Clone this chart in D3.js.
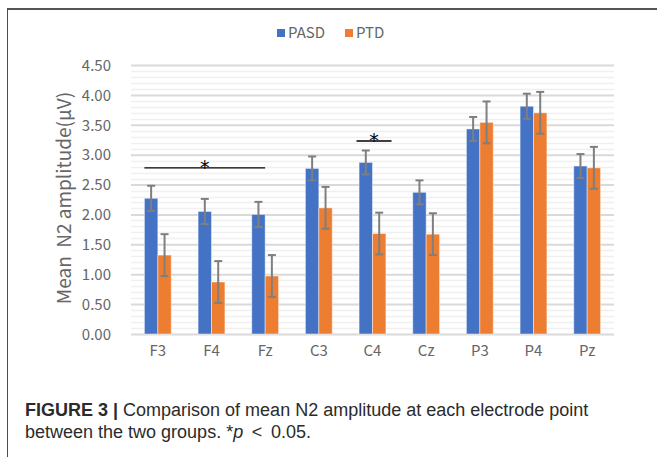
<!DOCTYPE html>
<html>
<head>
<meta charset="utf-8">
<script src="https://cdn.jsdelivr.net/npm/d3@7"></script>
<style>
    body { margin: 0; background: #fff; }
    svg { display: block; }
</style>
</head>
<body>
<div id="chart"></div>
<script>
'use strict';

// DATA
var electrodes = ['F3', 'F4', 'Fz', 'C3', 'C4', 'Cz', 'P3', 'P4', 'Pz'];
var groups = ['PASD', 'PTD'];
var pasdMean = [2.27, 2.05, 2.00, 2.77, 2.87, 2.37, 3.43, 3.81, 2.81];
var pasdErr = [0.21, 0.21, 0.21, 0.20, 0.20, 0.20, 0.20, 0.21, 0.20];
var ptdMean = [1.32, 0.87, 0.97, 2.11, 1.68, 1.67, 3.54, 3.70, 2.78];
var ptdErr = [0.35, 0.35, 0.35, 0.35, 0.35, 0.35, 0.35, 0.35, 0.35];
var yTicks = [0, 0.5, 1, 1.5, 2, 2.5, 3, 3.5, 4, 4.5];
var captionLines = [
    ['FIGURE 3 |', ' Comparison of mean N2 amplitude at each electrode point'],
    ['', 'between the two groups. *p \u2009<\u2009 0.05.']
];
// significance brackets: from / to electrode and height in µV
var sigMarks = [
    { from: 'F3', to: 'Fz', y: 2.78, wide: true },
    { from: 'C4', to: 'C4', y: 3.23, wide: false }
];

var colors = { PASD: '#4472C4', PTD: '#ED7D31' };

var stage = { width: 657, height: 457 };
var plot = { left: 131, right: 614, top: 65, bottom: 334 };

var svg = d3.select('#chart')
    .append('svg')
    .attr('width', stage.width)
    .attr('height', stage.height)
    .attr('xmlns', 'http://www.w3.org/2000/svg');

// FRAME
svg.append('line')
    .attr('x1', 7).attr('y1', 9).attr('x2', stage.width).attr('y2', 9)
    .attr('stroke', '#555').attr('stroke-width', 2);
svg.append('line')
    .attr('x1', 7.5).attr('y1', 8).attr('x2', 7.5).attr('y2', stage.height)
    .attr('stroke', '#4d4d4d').attr('stroke-width', 1);

// SCALES
var x = d3.scaleBand()
    .domain(electrodes)
    .range([plot.left, plot.right]);

var inner = d3.scaleBand()
    .domain(groups)
    .range([0, x.bandwidth() / 2]);

var y = d3.scaleLinear()
    .domain([0, 4.5])
    .range([plot.bottom, plot.top]);

// GRID LINES
var minorTicks = d3.range(0, 45).map(function(d) { return d / 10; })
    .filter(function(d) { return Math.round(d * 10) % 5 !== 0; });

svg.append('g')
    .attr('class', 'grid-minor')
    .selectAll('line').data(minorTicks).enter()
    .append('line')
    .attr('x1', plot.left).attr('x2', plot.right)
    .attr('y1', function(d) { return Math.round(y(d)) + 0.5; })
    .attr('y2', function(d) { return Math.round(y(d)) + 0.5; })
    .attr('stroke', '#f0f0f0')
    .attr('stroke-width', 1.5);

svg.append('g')
    .attr('class', 'grid-major')
    .call(d3.axisLeft(y)
        .tickValues(yTicks)
        .tickSize(-(plot.right - plot.left))
        .tickFormat(''))
    .attr('transform', 'translate(' + plot.left + ',0)')
    .call(function(g) {
        g.select('.domain').remove();
        g.selectAll('.tick line')
            .attr('stroke', '#d9d9d9')
            .attr('stroke-width', 2);
    });

// Y AXIS LABELS
svg.append('g')
    .attr('transform', 'translate(' + (plot.left - 17) + ',0)')
    .call(d3.axisLeft(y)
        .tickValues(yTicks)
        .tickSize(0)
        .tickFormat(d3.format('.2f')))
    .call(function(g) {
        g.select('.domain').remove();
        g.selectAll('text')
            .attr('fill', '#666')
            .attr('font-family', '"Noto Sans CJK SC", "Noto Sans", sans-serif')
            .attr('font-size', 15)
            .attr('dy', '0.35em');
    });

svg.append('text')
    .attr('transform', 'translate(71,' + 198 + ') rotate(-90)')
    .attr('text-anchor', 'middle')
    .attr('fill', '#666')
    .attr('font-family', '"Noto Sans CJK SC", "Noto Sans", sans-serif')
    .attr('font-size', 19)
    .attr('xml:space', 'preserve')
    .text('Mean  N2 amplitude(\u03BCV)');

// X AXIS LABELS
svg.append('g')
    .attr('transform', 'translate(0,' + (plot.bottom + 8) + ')')
    .call(d3.axisBottom(x).tickSize(0))
    .call(function(g) {
        g.select('.domain').remove();
        g.selectAll('text')
            .attr('fill', '#666')
            .attr('font-family', '"Noto Sans CJK SC", "Noto Sans", sans-serif')
            .attr('font-size', 15);
    });

// BARS
var rows = electrodes.map(function(name, i) {
    return {
        name: name,
        values: [
            { group: 'PASD', mean: pasdMean[i], err: pasdErr[i] },
            { group: 'PTD', mean: ptdMean[i], err: ptdErr[i] }
        ]
    };
});

var offset = x.bandwidth() / 4;

var cells = svg.append('g')
    .attr('class', 'bars')
    .selectAll('g').data(rows).enter()
    .append('g')
    .attr('transform', function(d) { return 'translate(' + (x(d.name) + offset) + ',0)'; });

cells.selectAll('rect')
    .data(function(d) { return d.values; }).enter()
    .append('rect')
    .attr('x', function(d) { return inner(d.group); })
    .attr('y', function(d) { return y(d.mean); })
    .attr('width', inner.bandwidth())
    .attr('height', function(d) { return y(0) - y(d.mean); })
    .attr('fill', function(d) { return colors[d.group]; })
    .attr('stroke', '#ffffff')
    .attr('stroke-opacity', 0.45)
    .attr('stroke-width', 1);

// ERROR BARS
var errs = cells.selectAll('g.err')
    .data(function(d) { return d.values; }).enter()
    .append('g')
    .attr('class', 'err')
    .attr('stroke', '#7f7f7f')
    .attr('stroke-width', 2);

var cx = function(d) { return inner(d.group) + inner.bandwidth() / 2; };

errs.append('line')
    .attr('x1', cx).attr('x2', cx)
    .attr('y1', function(d) { return y(d.mean + d.err); })
    .attr('y2', function(d) { return y(d.mean - d.err); });

errs.selectAll('line.cap')
    .data(function(d) { return [d.mean + d.err, d.mean - d.err].map(function(v) { return { v: v, d: d }; }); })
    .enter()
    .append('line')
    .attr('class', 'cap')
    .attr('x1', function(c) { return cx(c.d) - 4; })
    .attr('x2', function(c) { return cx(c.d) + 4; })
    .attr('y1', function(c) { return y(c.v); })
    .attr('y2', function(c) { return y(c.v); });

// SIGNIFICANCE
var sigLeft = function(d) {
    return d.wide ? x(d.from) + offset : x(d.from) + x.bandwidth() / 2 - 16;
};
var sigRight = function(d) {
    return d.wide ? x(d.to) + offset + inner.bandwidth() : x(d.to) + x.bandwidth() / 2 + 19;
};

var sig = svg.append('g')
    .attr('class', 'sig')
    .selectAll('g').data(sigMarks).enter()
    .append('g');

sig.append('line')
    .attr('x1', sigLeft)
    .attr('x2', sigRight)
    .attr('y1', function(d) { return y(d.y); })
    .attr('y2', function(d) { return y(d.y); })
    .attr('stroke', function(d) { return d.wide ? '#000' : '#404040'; })
    .attr('stroke-width', function(d) { return d.wide ? 1.2 : 2; });

sig.append('text')
    .attr('x', function(d) { return (sigLeft(d) + sigRight(d)) / 2; })
    .attr('y', function(d) { return y(d.y) + 6; })
    .attr('text-anchor', 'middle')
    .attr('fill', '#000')
    .attr('font-family', '"DejaVu Sans", sans-serif')
    .attr('font-size', 19)
    .text('*');

// LEGEND
var legend = svg.append('g')
    .attr('class', 'legend')
    .attr('font-family', '"Noto Sans CJK SC", "Noto Sans", sans-serif')
    .attr('font-size', 15)
    .attr('fill', '#666');

var legendX = [277, 345];
groups.forEach(function(g, i) {
    legend.append('rect')
        .attr('x', legendX[i]).attr('y', 29)
        .attr('width', 8).attr('height', 8)
        .attr('fill', colors[g]);
    legend.append('text')
        .attr('x', legendX[i] + 11).attr('y', 33)
        .attr('dy', '0.35em')
        .text(g);
});

// CAPTION
var caption = svg.append('g')
    .attr('font-family', '"Liberation Sans", Arial, sans-serif')
    .attr('font-size', 18)
    .attr('fill', '#2b2b2b');

captionLines.forEach(function(line, i) {
    var t = caption.append('text')
        .attr('x', 25)
        .attr('y', 416 + i * 22)
        .attr('xml:space', 'preserve');
    if (line[0]) {
        t.append('tspan').attr('font-weight', 'bold').text(line[0]);
    }
    if (line[1].indexOf('*p') >= 0) {
        var parts = line[1].split('*p');
        t.append('tspan').text(parts[0] + '*');
        t.append('tspan').attr('font-style', 'italic').text('p');
        t.append('tspan').text(parts[1]);
    } else {
        t.append('tspan').text(line[1]);
    }
});
</script>
</body>
</html>
